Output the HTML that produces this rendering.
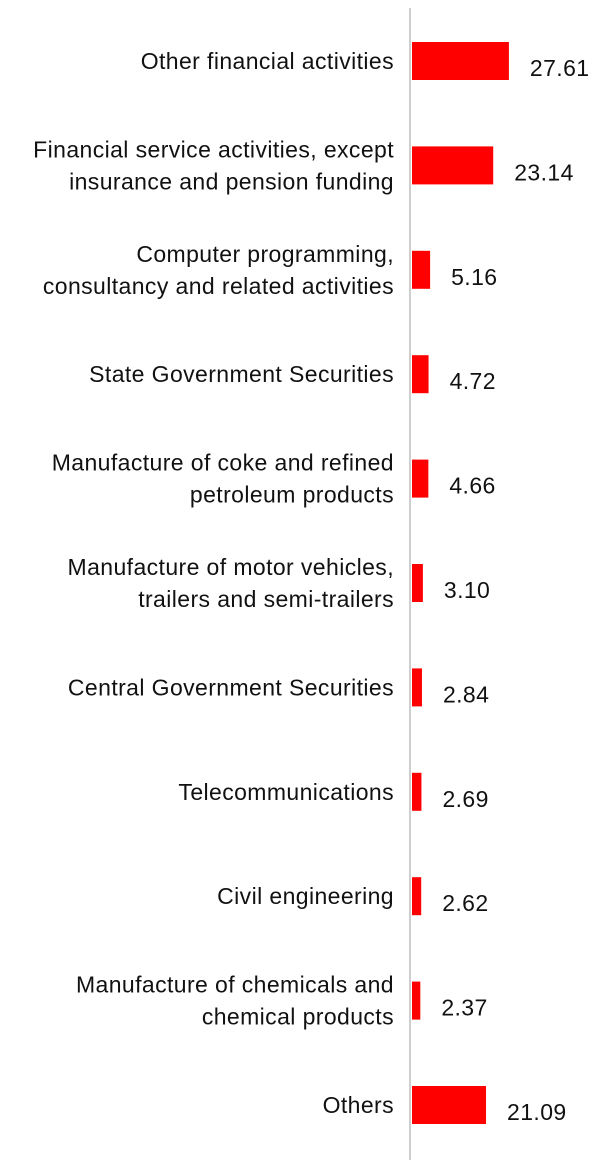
<!DOCTYPE html>
<html><head><meta charset="utf-8"><style>
html,body{margin:0;padding:0;background:#fff;}
svg{display:block;font-family:"Liberation Sans",sans-serif;}
</style></head><body>
<svg id="chart" width="615" height="1169">
<line x1="410" y1="8" x2="410" y2="1160" stroke="#cfcfcf" stroke-width="2"/>
</svg>
<script>
const categories = [
 ["Other financial activities"],
 ["Financial service activities, except","insurance and pension funding"],
 ["Computer programming,","consultancy and related activities"],
 ["State Government Securities"],
 ["Manufacture of coke and refined","petroleum products"],
 ["Manufacture of motor vehicles,","trailers and semi-trailers"],
 ["Central Government Securities"],
 ["Telecommunications"],
 ["Civil engineering"],
 ["Manufacture of chemicals and","chemical products"],
 ["Others"]
];
const values = [27.61,23.14,5.16,4.72,4.66,3.10,2.84,2.69,2.62,2.37,21.09];
const valueLabels = ["27.61","23.14","5.16","4.72","4.66","3.10","2.84","2.69","2.62","2.37","21.09"];

const svg = document.getElementById('chart');
const NS = 'http://www.w3.org/2000/svg';
const x0 = 412, scale = 3.51;
const xScale = v => v * scale;
const yCenter = i => 61 + i * 104.4;
const barH = 38;

values.forEach((v, i) => {
  const cy = yCenter(i);
  const r = document.createElementNS(NS, 'rect');
  r.setAttribute('x', x0);
  r.setAttribute('y', cy - barH / 2);
  r.setAttribute('width', xScale(v));
  r.setAttribute('height', barH);
  r.setAttribute('fill', '#ff0000');
  
  
  svg.appendChild(r);

  const t = document.createElementNS(NS, 'text');
  t.setAttribute('x', x0 + xScale(v) + 21);
  t.setAttribute('y', cy + 15);
  t.setAttribute('font-size', '23');
  t.setAttribute('letter-spacing', '0.4');
  t.setAttribute('fill', '#111');
  t.textContent = valueLabels[i];
  
  
  svg.appendChild(t);

  const lines = categories[i];
  const lh = 32;
  const start = cy + 8 - (lines.length - 1) * lh / 2;
  lines.forEach((ln, j) => {
    const c = document.createElementNS(NS, 'text');
    c.setAttribute('x', 394);
    c.setAttribute('y', start + j * lh);
    c.setAttribute('text-anchor', 'end');
    c.setAttribute('font-size', '23');
    c.setAttribute('letter-spacing', '0.4');
    c.setAttribute('fill', '#111');
    c.textContent = ln;
    
    
    svg.appendChild(c);
  });
});
</script>
</body></html>
